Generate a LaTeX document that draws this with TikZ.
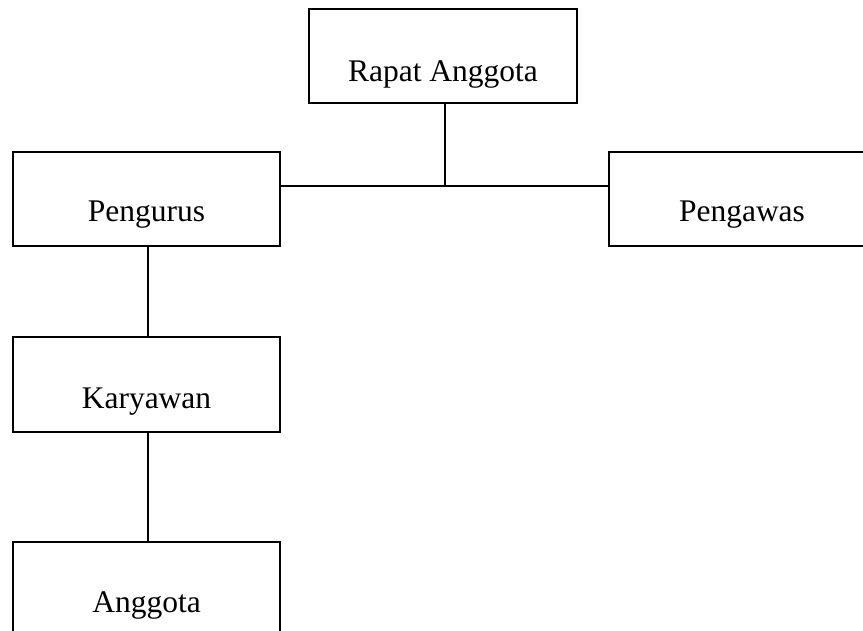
\documentclass[tikz,border=0pt]{standalone}
\usepackage{fontspec}
\setmainfont{Liberation Serif}
\begin{document}
\begin{tikzpicture}[x=1pt,y=-1pt,
  box/.style={draw=black,line width=2pt,minimum width=267pt,minimum height=94pt,inner sep=0pt,outer sep=0pt},
  lbl/.style={anchor=base,inner sep=0pt,font=\fontsize{31.5}{38}\selectfont},
  conn/.style={draw=black,line width=2pt}]
\useasboundingbox (0,0) rectangle (863,631);
\clip (0,0) rectangle (863,631);
\node[box,minimum width=268pt] (rapat) at (443,56.5) {};
\node[lbl] (rapatT) at (443,82) {Rapat Anggota};
\node[box] (pengurus) at (146.5,199) {};
\node[lbl] (pengurusT) at (146.5,222) {Pengurus};
\node[box] (pengawas) at (742,199) {};
\node[lbl] (pengawasT) at (742,222) {Pengawas};
\node[box] (karyawan) at (146.5,384.5) {};
\node[lbl] (karyawanT) at (146.5,408) {Karyawan};
\node[box] (anggota) at (146.5,589) {};
\node[lbl] (anggotaT) at (146.5,612) {Anggota};
\coordinate (junction) at (445,186);
\draw[conn] (rapat.south -| junction) -- (junction);
\draw[conn] (pengurus.east |- junction) -- (pengawas.west |- junction);
\draw[conn] ([xshift=1pt]pengurus.south) -- ([xshift=1pt]karyawan.north);
\draw[conn] ([xshift=1pt]karyawan.south) -- ([xshift=1pt]anggota.north);
\end{tikzpicture}
\end{document}
